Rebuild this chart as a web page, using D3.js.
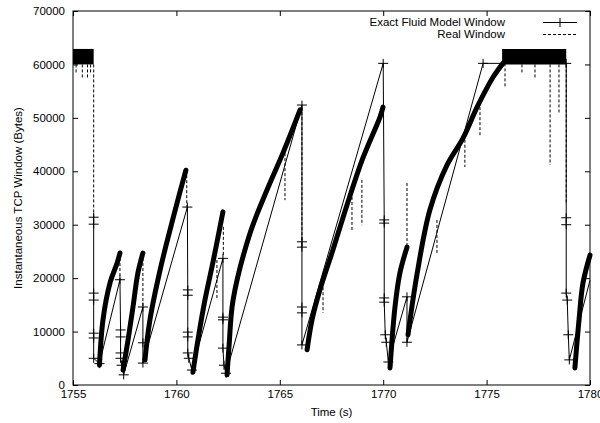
<!DOCTYPE html>
<html>
<head>
<meta charset="utf-8">
<script src="https://cdn.jsdelivr.net/npm/d3@7"></script>
<style>
  body { margin: 0; background: #fff; }
  svg { display: block; }
</style>
</head>
<body>
<div id="chart"></div>
<script>
var xTicks = [1755, 1760, 1765, 1770, 1775, 1780];
var yTicks = [0, 10000, 20000, 30000, 40000, 50000, 60000, 70000];

// dense "real window" teeth, one array per tooth
var toothT = [
  [1756.28, 1756.45, 1756.79, 1757.13, 1757.27],
  [1757.42, 1757.66, 1757.90, 1758.14, 1758.38],
  [1758.48, 1758.72, 1759.21, 1759.69, 1760.17, 1760.46],
  [1760.80, 1761.04, 1761.38, 1761.77, 1762.25],
  [1762.45, 1762.55, 1762.74, 1763.56, 1764.38, 1765.15, 1765.98],
  [1766.32, 1766.56, 1766.94, 1767.57, 1768.25, 1769.02, 1769.85, 1769.99],
  [1770.33, 1770.57, 1770.81, 1771.15],
  [1771.20, 1771.63, 1772.26, 1773.09, 1773.86, 1774.54, 1775.31, 1775.79],
  [1779.27, 1779.47, 1779.66, 1780.00]
];
var toothW = [
  [3700, 12200, 19100, 22800, 24700],
  [2800, 8400, 14600, 21000, 24700],
  [4700, 12200, 21500, 29000, 36100, 40200],
  [2400, 8400, 15900, 23000, 32400],
  [1900, 7500, 15900, 28400, 36500, 43400, 51500],
  [6600, 12200, 17800, 25300, 33700, 42500, 50200, 52000],
  [3200, 14600, 21000, 25800],
  [9400, 20600, 32800, 41200, 46200, 52000, 57600, 60200],
  [3200, 12200, 19100, 24300]
];

// flat saturated stretches of the real window
var flatStart = [1755.0, 1775.75];
var flatEnd = [1756.0, 1778.85];
var flatLow = [60000, 60000];
var flatHigh = [62900, 62900];

// dashed drops of the real window: time, top, bottom
var dropT = [1755.15, 1755.45, 1755.7, 1755.85, 1756.0, 1757.27, 1758.38, 1760.5, 1761.96, 1762.27,
             1765.25, 1766.07, 1767.09, 1768.49, 1768.97, 1771.15, 1772.6, 1773.95, 1774.68,
             1775.89, 1776.71, 1777.34, 1778.07, 1778.5, 1778.85];
var dropTop = [60000, 60000, 60000, 60000, 60000, 24700, 24700, 40200, 23400, 29600,
               43400, 52000, 18300, 35200, 38400, 37800, 30900, 45900, 52000,
               60200, 60000, 60000, 60000, 60000, 60000];
var dropBottom = [58500, 57500, 57500, 58500, 31400, 19700, 14600, 33300, 15900, 24000,
                  34600, 26800, 13500, 29000, 29900, 25800, 24700, 40800, 46400,
                  55800, 58400, 57500, 41200, 50900, 34000];

// exact fluid model window samples
var fluidT = [1756.0, 1756.0, 1756.0, 1756.0, 1756.0, 1756.0, 1756.0, 1756.28,
              1757.27, 1757.3, 1757.3, 1757.3, 1757.3, 1757.35, 1757.45,
              1758.38, 1758.38, 1758.38,
              1760.53, 1760.55, 1760.55, 1760.55, 1760.55, 1760.55, 1760.6, 1760.75,
              1762.25, 1762.25, 1762.25, 1762.25, 1762.3, 1762.4,
              1766.07, 1766.07, 1766.07, 1766.07, 1766.07, 1766.07,
              1770.0, 1770.05, 1770.05, 1770.05, 1770.05, 1770.1, 1770.15, 1770.25,
              1771.15, 1771.15,
              1774.83, 1778.85, 1778.85, 1778.85, 1778.85, 1778.9, 1778.95, 1779.0, 1780.0];
var fluidW = [31400, 30100, 17200, 15900, 9700, 8800, 5000, 4000,
              19700, 10300, 9000, 6000, 5000, 3700, 1900,
              14600, 7900, 4100,
              33300, 17800, 16800, 9900, 9000, 6000, 5000, 2800,
              23700, 12700, 12200, 6900, 3700, 2200,
              52400, 26800, 25800, 14600, 13500, 7500,
              60200, 30900, 30300, 16300, 15500, 9400, 8000, 4300,
              16500, 8000,
              60200, 60200, 31300, 30000, 17200, 15900, 9400, 4700, 19600];

var width = 600, height = 423;
var plotLeft = 73, plotRight = 590, plotTop = 11, plotBottom = 385;
var font = "'Liberation Sans', Arial, Helvetica, sans-serif";

var svg = d3.select("#chart").append("svg")
    .attr("width", width)
    .attr("height", height);

var x = d3.scaleLinear().domain([1755, 1780]).range([plotLeft, plotRight]);
var y = d3.scaleLinear().domain([0, 70000]).range([plotBottom, plotTop]);

var plot = svg.append("g");

// saturated flat blocks
var flatArea = d3.area()
    .x(function(d){ return x(d.t); })
    .y0(function(d){ return y(d.lo); })
    .y1(function(d){ return y(d.hi); });
for (var i = 0; i < flatStart.length; i++){
    plot.append("path")
        .datum([{t: flatStart[i], lo: flatLow[i], hi: flatHigh[i]}, {t: flatEnd[i], lo: flatLow[i], hi: flatHigh[i]}])
        .attr("d", flatArea)
        .attr("fill", "#000");
}

// dense teeth
var toothLine = d3.line()
    .x(function(d){ return x(d[0]); })
    .y(function(d){ return y(d[1]); })
    .curve(d3.curveCatmullRom.alpha(0.5));
for (var j = 0; j < toothT.length; j++){
    plot.append("path")
        .datum(d3.zip(toothT[j], toothW[j]))
        .attr("d", toothLine)
        .attr("fill", "none")
        .attr("stroke", "#000")
        .attr("stroke-width", 5)
        .attr("stroke-linejoin", "round")
        .attr("stroke-linecap", "round");
}

// real window drops, dashed
plot.append("g").selectAll("line").data(d3.range(dropT.length)).enter().append("line")
    .attr("x1", function(k){ return x(dropT[k]); })
    .attr("x2", function(k){ return x(dropT[k]); })
    .attr("y1", function(k){ return y(dropTop[k]); })
    .attr("y2", function(k){ return y(dropBottom[k]); })
    .attr("stroke", "#000")
    .attr("stroke-width", 1)
    .attr("stroke-dasharray", "3,2");

// fluid model line + markers
var fluidPts = d3.zip(fluidT, fluidW);
plot.append("path")
    .datum(fluidPts)
    .attr("d", d3.line().x(function(d){ return x(d[0]); }).y(function(d){ return y(d[1]); }))
    .attr("fill", "none")
    .attr("stroke", "#000")
    .attr("stroke-width", 1);

var plusPath = "M-5,0H5M0,-4.5V4.5";
plot.append("g").selectAll("path").data(fluidPts.slice(0, fluidPts.length - 1)).enter().append("path")
    .attr("d", plusPath)
    .attr("transform", function(d){ return "translate(" + x(d[0]) + "," + y(d[1]) + ")"; })
    .attr("stroke", "#000")
    .attr("stroke-width", 1)
    .attr("fill", "none");

// axes
var styleAxis = function(g){
    g.select(".domain").remove();
    g.selectAll("line").attr("stroke", "#000");
    g.selectAll("text").attr("fill", "#000");
    g.attr("font-family", font).attr("font-size", 11.5);
};

svg.append("g")
    .attr("transform", "translate(0," + plotBottom + ")")
    .call(d3.axisBottom(x).tickValues(xTicks).tickFormat(d3.format("d")).tickSizeInner(-5).tickSizeOuter(0).tickPadding(5))
    .call(styleAxis);
svg.append("g")
    .attr("transform", "translate(0," + plotTop + ")")
    .call(d3.axisTop(x).tickValues(xTicks).tickFormat("").tickSizeInner(-5).tickSizeOuter(0))
    .call(styleAxis);
svg.append("g")
    .attr("transform", "translate(" + plotLeft + ",0)")
    .call(d3.axisLeft(y).tickValues(yTicks).tickFormat(d3.format("d")).tickSizeInner(-5).tickSizeOuter(0).tickPadding(8))
    .call(styleAxis);
svg.append("g")
    .attr("transform", "translate(" + plotRight + ",0)")
    .call(d3.axisRight(y).tickValues(yTicks).tickFormat("").tickSizeInner(-5).tickSizeOuter(0))
    .call(styleAxis);

svg.append("rect")
    .attr("x", plotLeft).attr("y", plotTop)
    .attr("width", plotRight - plotLeft).attr("height", plotBottom - plotTop)
    .attr("fill", "none")
    .attr("stroke", "#000")
    .attr("stroke-width", 1);

svg.append("text")
    .attr("x", (plotLeft + plotRight) / 2).attr("y", 416)
    .attr("text-anchor", "middle")
    .attr("font-family", font).attr("font-size", 11.5)
    .text("Time (s)");

svg.append("text")
    .attr("transform", "translate(22," + (plotTop + plotBottom) / 2 + ") rotate(-90)")
    .attr("text-anchor", "middle")
    .attr("font-family", font).attr("font-size", 11.5)
    .text("Instantaneous TCP Window (Bytes)");

// legend
var legend = svg.append("g").attr("font-family", font).attr("font-size", 11.5);
legend.append("text").attr("x", 505).attr("y", 26).attr("text-anchor", "end").text("Exact Fluid Model Window");
legend.append("text").attr("x", 505).attr("y", 38).attr("text-anchor", "end").text("Real Window");
legend.append("line").attr("x1", 543).attr("x2", 577).attr("y1", 22.5).attr("y2", 22.5)
    .attr("stroke", "#000");
legend.append("path").attr("d", plusPath).attr("transform", "translate(560,22.5)")
    .attr("stroke", "#000").attr("fill", "none");
legend.append("line").attr("x1", 543).attr("x2", 577).attr("y1", 34.5).attr("y2", 34.5)
    .attr("stroke", "#000").attr("stroke-dasharray", "3,2");
</script>
</body>
</html>
